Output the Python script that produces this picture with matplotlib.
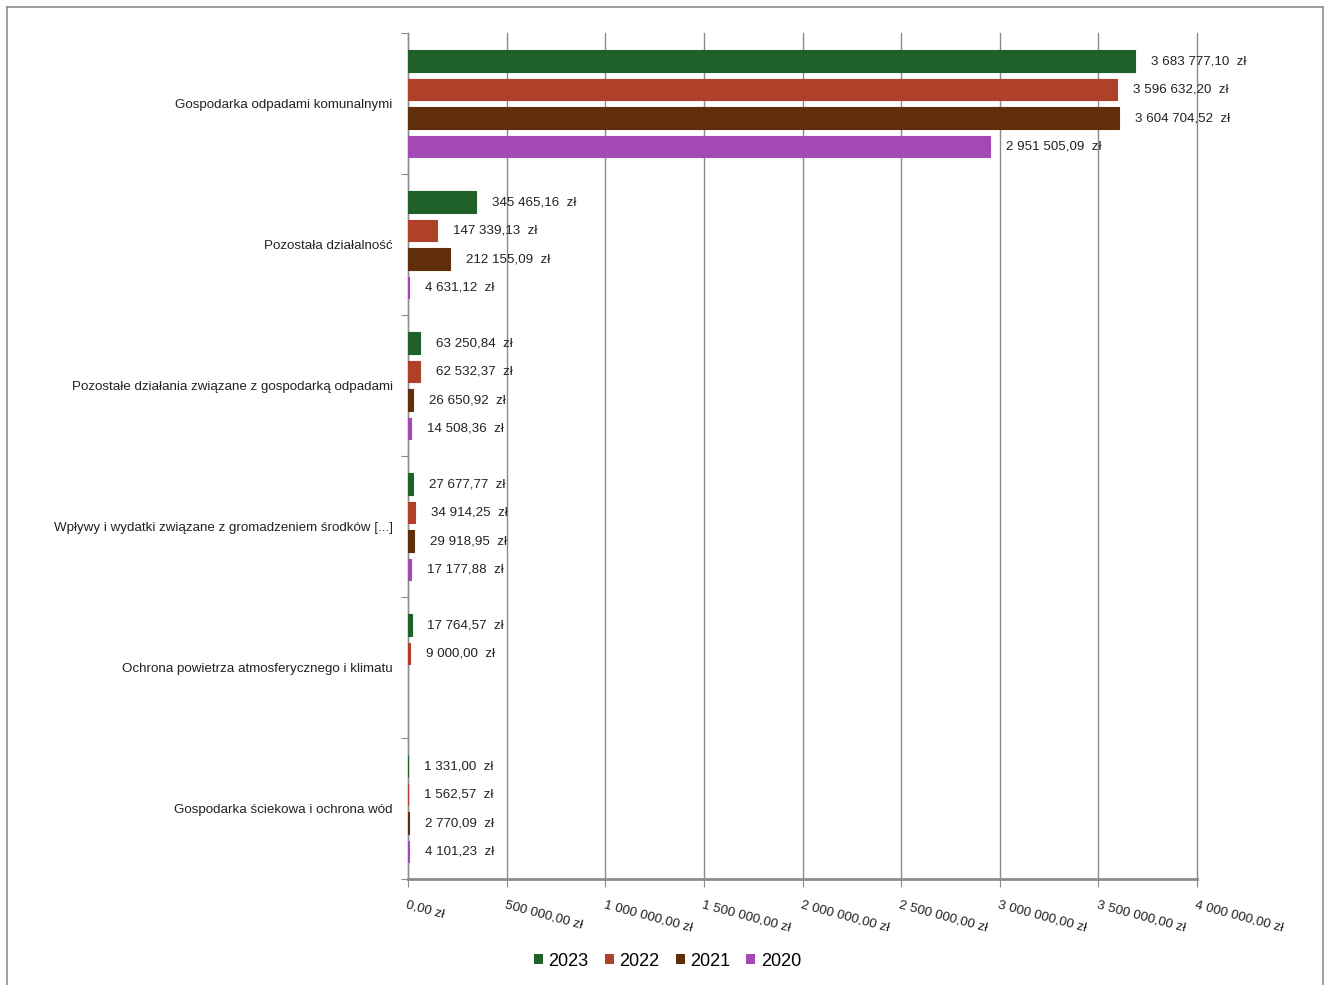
import matplotlib
matplotlib.use("Agg")
import matplotlib.pyplot as plt
from matplotlib.patches import Patch
from matplotlib.lines import Line2D
import numpy as np

plt.rcParams['font.family'] = ['Liberation Sans', 'DejaVu Sans']

categories = [
    "Gospodarka odpadami komunalnymi",
    "Pozostała działalność",
    "Pozostałe działania związane z gospodarką odpadami",
    "Wpływy i wydatki związane z gromadzeniem środków [...]",
    "Ochrona powietrza atmosferycznego i klimatu",
    "Gospodarka ściekowa i ochrona wód",
]
years = ["2023", "2022", "2021", "2020"]
values_2023 = [3683777.10, 345465.16, 63250.84, 27677.77, 17764.57, 1331.00]
values_2022 = [3596632.20, 147339.13, 62532.37, 34914.25, 9000.00, 1562.57]
values_2021 = [3604704.52, 212155.09, 26650.92, 29918.95, None, 2770.09]
values_2020 = [2951505.09, 4631.12, 14508.36, 17177.88, None, 4101.23]
series = [values_2023, values_2022, values_2021, values_2020]
colors = ["#1f6129", "#b04128", "#602e0a", "#a349b5"]
x_ticks = [0, 500000, 1000000, 1500000, 2000000, 2500000, 3000000, 3500000, 4000000]


def fmt_pl(v):
    s = f"{v:,.2f}"
    intpart, dec = s.split(".")
    intpart = intpart.replace(",", " ")
    return f"{intpart},{dec}"


fig = plt.figure(figsize=(13.27, 9.85), dpi=100)
ax = fig.add_axes([408 / 1327, 1 - 879 / 985, (1197 - 408) / 1327, (879 - 33) / 985])

offsets = [-0.301, -0.098, 0.103, 0.307]
bar_h = 0.150
for s_idx, (vals, col) in enumerate(zip(series, colors)):
    for c_idx, v in enumerate(vals):
        if v is None:
            continue
        y = c_idx + 0.5 + offsets[s_idx]
        ax.barh(y, v, height=bar_h, color=col, edgecolor=col, linewidth=0.8, zorder=3)
        ax.annotate(fmt_pl(v) + "  zł", xy=(v, y), xytext=(11.5, 0),
                    textcoords='offset points', ha='left', va='center',
                    fontsize=9.6, color='#222222', zorder=4)

ax.set_xlim(0, 4000000)
ax.set_ylim(6, 0)

ax.set_xticks(x_ticks)
ax.set_xticklabels([fmt_pl(t) + " zł" for t in x_ticks], rotation=-15,
                   ha='left', va='top', rotation_mode='anchor', fontsize=9.6,
                   color='#222222')
ax.tick_params(axis='x', length=6, color='#8c8c8c', pad=8)

ax.set_yticks(range(7))
ax.set_yticklabels([])
ax.set_yticks([i + 0.5 for i in range(6)], minor=True)
ax.set_yticklabels(categories, minor=True, fontsize=9.6, color='#222222')
ax.tick_params(axis='y', which='major', length=5, color='#8c8c8c')
ax.tick_params(axis='y', which='minor', length=0, pad=11)

ax.grid(axis='x', color='#8a8a8a', linewidth=1.0, zorder=0)
for gl in ax.get_xgridlines():
    gl.set_clip_on(False)
ax.set_axisbelow(True)
for side in ['top', 'right']:
    ax.spines[side].set_visible(False)
ax.spines['left'].set_color('#8c8c8c')
ax.spines['left'].set_linewidth(1.0)
ax.spines['bottom'].set_color('#8c8c8c')
ax.spines['bottom'].set_linewidth(2.0)

handles = [Patch(facecolor=c, edgecolor='none', label=y) for c, y in zip(colors, years)]
fig.legend(handles=handles, loc='center', bbox_to_anchor=(0.503, 1 - 961 / 985),
           ncol=4, frameon=False, fontsize=13, handlelength=0.5, handleheight=0.5,
           handletextpad=0.3, columnspacing=0.9)

# outer border
bc = '#8f8f8f'
fig.add_artist(Line2D([7 / 1327, 1323 / 1327], [1 - 7 / 985, 1 - 7 / 985], color=bc, lw=1.2))
fig.add_artist(Line2D([7 / 1327, 7 / 1327], [0, 1 - 7 / 985], color=bc, lw=1.2))
fig.add_artist(Line2D([1323 / 1327, 1323 / 1327], [0, 1 - 7 / 985], color=bc, lw=1.2))

fig.savefig("out.png", dpi=100, facecolor='white')
